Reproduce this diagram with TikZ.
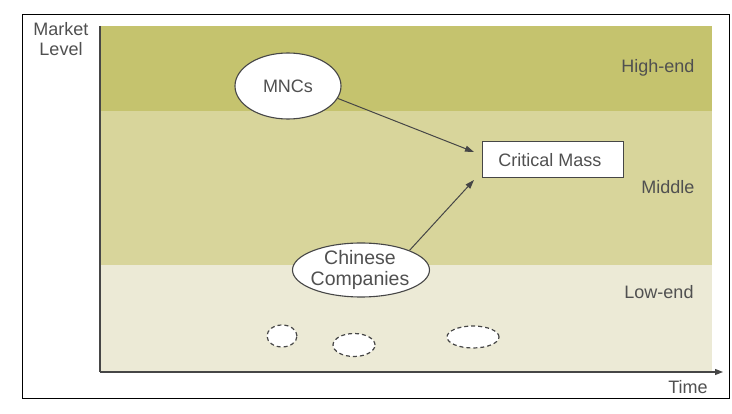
\documentclass[tikz,border=0pt]{standalone}
\usepackage{fontspec}
\setmainfont{Liberation Sans}
\usetikzlibrary{shapes.geometric,arrows.meta}
\definecolor{bandhigh}{RGB}{197,195,110}
\definecolor{bandmid}{RGB}{216,213,155}
\definecolor{bandlow}{RGB}{236,234,214}
\definecolor{ink}{RGB}{70,70,70}
\definecolor{txt}{RGB}{80,80,80}
\tikzset{
  lbl/.style={text=txt, font=\fontsize{18}{20}\selectfont, inner sep=0pt},
  blob/.style={ellipse, draw=ink, line width=1.1pt, fill=white, inner sep=0pt},
  faint/.style={ellipse, draw=ink, line width=1.2pt, dash pattern=on 4pt off 3pt, fill=white, inner sep=0pt},
  flow/.style={draw=ink, line width=1pt, -{Triangle[length=9pt,width=6pt]}},
}
\begin{document}
\begin{tikzpicture}[x=1pt,y=-1pt]
\useasboundingbox (0,0) rectangle (732,414);
\fill[white] (0,0) rectangle (732,414);
% outer frame
\draw[black, line width=1pt] (22,15) rectangle (729,399);
% market bands
\fill[bandhigh] (100,26) rectangle (712,111);
\fill[bandmid] (100,111) rectangle (712,265);
\fill[bandlow] (100,265) rectangle (712,372);
% axes
\coordinate (origin) at (100,372);
\coordinate (ytop) at (100,26);
\coordinate (xend) at (723,372);
\draw[ink, line width=1.3pt] (ytop) -- (origin);
\draw[ink, line width=1.3pt, -{Triangle[length=8pt,width=6pt]}] (origin) -- (xend);
% axis and band labels
\node[lbl, align=center] (ylabel) at (61,39) {Market\\Level};
\node[lbl] (xlabel) at (688,387) {Time};
\node[lbl] (hi) at (658,68) {High-end};
\node[lbl] (mid) at (668,187) {Middle};
\node[lbl] (lo) at (659,292) {Low-end};
% players
\node[blob, minimum width=106pt, minimum height=66pt] (mnc) at (288,86) {};
\node[lbl] at (mnc) {MNCs};
\node[draw=ink, line width=1pt, fill=white, minimum width=141pt, minimum height=36pt, inner sep=0pt] (cm) at (553,160) {};
\node[lbl] at ([xshift=-3pt]cm.center) {Critical Mass};
\node[blob, minimum width=137pt, minimum height=54pt] (cn) at (361,270) {};
\node[lbl, align=center, font=\fontsize{19.5}{21}\selectfont] at ([xshift=-1pt]cn.center) {Chinese\\Companies};
% small dashed entrants
\node[faint, minimum width=30pt, minimum height=22pt] (e1) at (282,336) {};
\node[faint, minimum width=42pt, minimum height=23pt] (e2) at (354,345) {};
\node[faint, minimum width=52pt, minimum height=22pt] (e3) at (473,337) {};
% movement towards critical mass
\coordinate (cmin1) at (474,152);
\coordinate (cmin2) at (474,180);
\draw[flow] (mnc.-14) -- (cmin1);
\draw[flow] (cn.22) -- (cmin2);
\end{tikzpicture}
\end{document}
